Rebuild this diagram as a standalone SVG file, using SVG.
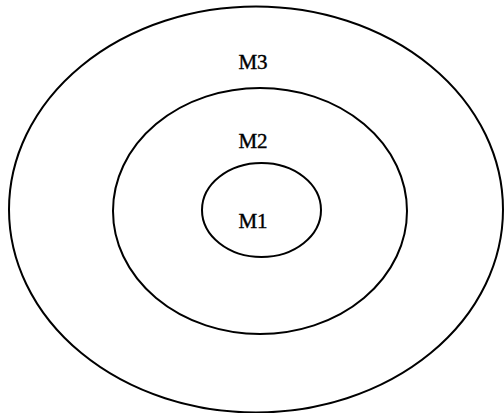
<svg xmlns="http://www.w3.org/2000/svg" width="504" height="413" viewBox="0 0 504 413">
<style>
.ring{fill:none;stroke:#000;stroke-width:2}
.lbl{font-family:"Liberation Serif",serif;font-size:21px;fill:#000;stroke:#000;stroke-width:0.4;text-anchor:middle}
</style>
<rect width="504" height="413" fill="#fff"/>
<g id="M3"><ellipse class="ring" cx="256" cy="209.5" rx="247" ry="203"/><text class="lbl" x="253" y="69">M3</text></g>
<g id="M2"><ellipse class="ring" cx="260" cy="211" rx="147" ry="123"/><text class="lbl" x="253" y="148">M2</text></g>
<g id="M1"><ellipse class="ring" cx="261.5" cy="210" rx="59.5" ry="47"/><text class="lbl" x="253" y="228">M1</text></g>
<g id="connectors"/>
</svg>
